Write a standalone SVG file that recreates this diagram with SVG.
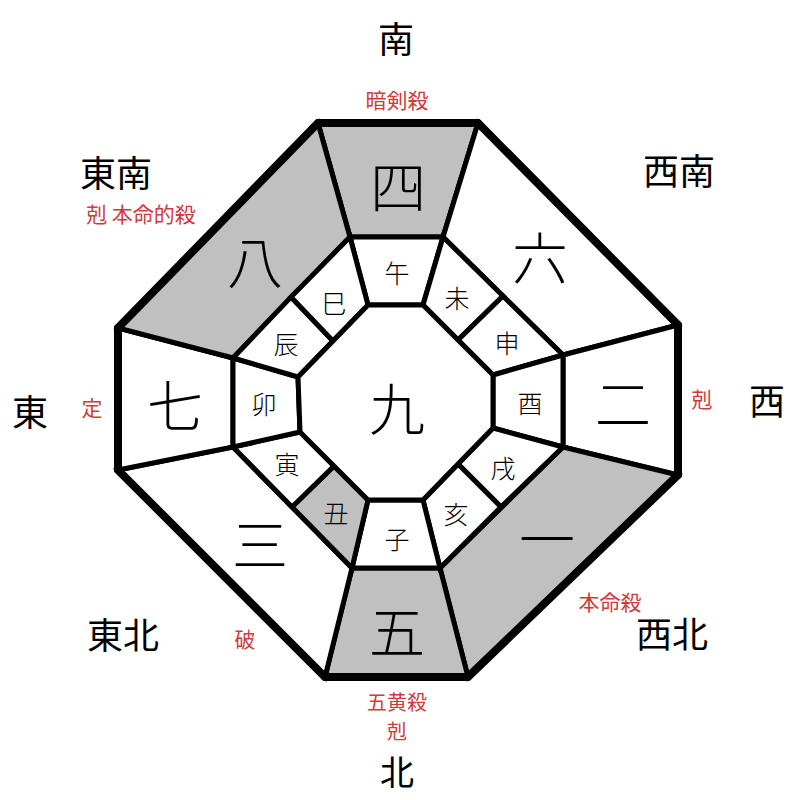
<svg xmlns="http://www.w3.org/2000/svg" width="800" height="800" viewBox="0 0 800 800">
<style>
.c{stroke:#000;stroke-width:5;stroke-linejoin:miter;fill:#fff}
.g{fill:#c0c0c0}
.big{font-family:"Noto Sans CJK JP","Noto Sans CJK SC",sans-serif;font-weight:300;font-size:56px;text-anchor:middle;dominant-baseline:central;fill:#000}
.zod{font-family:"Noto Sans CJK JP","Noto Sans CJK SC",sans-serif;font-weight:300;font-size:25px;text-anchor:middle;dominant-baseline:central;fill:#000}
.dir{font-family:"Noto Sans CJK JP","Noto Sans CJK SC",sans-serif;font-weight:400;font-size:36px;text-anchor:middle;dominant-baseline:central;fill:#000}
.red{font-family:"Noto Sans CJK JP","Noto Sans CJK SC",sans-serif;font-weight:400;font-size:21px;text-anchor:middle;dominant-baseline:central;fill:#d03a3a}
.sm{font-size:20px}
</style>
<rect width="800" height="800" fill="#fff"/>
<g id="outer-ring">
<g id="s-south"><polygon class="c g" points="318,123 478,123 443,237 350,237"/><text class="big" x="398" y="183">四</text></g>
<g id="s-southwest"><polygon class="c" points="478,123 678,325 563,355 443,237"/><text class="big" x="540" y="254">六</text></g>
<g id="s-west"><polygon class="c" points="678,325 678,475 563,447 563,355"/><text class="big" x="623" y="400">二</text></g>
<g id="s-northwest"><polygon class="c g" points="678,475 468,677 440,568 563,447"/><text class="big" x="547" y="535">一</text></g>
<g id="s-north"><polygon class="c g" points="468,677 325,677 352,568 440,568"/><text class="big" x="397" y="628">五</text></g>
<g id="s-northeast"><polygon class="c" points="325,677 118,470 233,447 352,568"/><text class="big" x="260" y="541">三</text></g>
<g id="s-east"><polygon class="c" points="118,470 118,328 233,358 233,447"/><text class="big" x="175" y="402">七</text></g>
<g id="s-southeast"><polygon class="c g" points="118,328 318,123 350,237 233,358"/><text class="big" x="255" y="258">八</text></g>
</g>
<g id="zodiac-ring">
<g id="z-uma"><polygon class="c" points="350,237 443,237 423,305 368,305"/><text class="zod" x="397" y="272">午</text></g>
<g id="z-hitsuji"><polygon class="c" points="443,237 503,296 458,340 423,305"/><text class="zod" x="457" y="297">未</text></g>
<g id="z-saru"><polygon class="c" points="503,296 563,355 493,375 458,340"/><text class="zod" x="507" y="342">申</text></g>
<g id="z-tori"><polygon class="c" points="563,355 563,447 493,428 493,375"/><text class="zod" x="530" y="402">酉</text></g>
<g id="z-inu"><polygon class="c" points="563,447 501,507 458,464 493,428"/><text class="zod" x="503" y="467">戌</text></g>
<g id="z-i"><polygon class="c" points="501,507 440,568 423,500 458,464"/><text class="zod" x="456" y="513">亥</text></g>
<g id="z-ne"><polygon class="c" points="440,568 352,568 368,500 423,500"/><text class="zod" x="397" y="538">子</text></g>
<g id="z-ushi"><polygon class="c g" points="352,568 292,507 334,466 368,500"/><text class="zod" x="336" y="512">丑</text></g>
<g id="z-tora"><polygon class="c" points="292,507 233,447 300,432 334,466"/><text class="zod" x="287" y="463">寅</text></g>
<g id="z-u"><polygon class="c" points="233,447 233,358 298,377 300,432"/><text class="zod" x="264" y="403">卯</text></g>
<g id="z-tatsu"><polygon class="c" points="233,358 291,297 333,341 298,377"/><text class="zod" x="286" y="343">辰</text></g>
<g id="z-mi"><polygon class="c" points="291,297 350,237 368,305 333,341"/><text class="zod" x="334" y="302">巳</text></g>
</g>
<g id="center"><polygon class="c" points="368,305 423,305 493,375 493,428 423,500 368,500 300,432 298,377"/><text class="big" x="397" y="405">九</text></g>
<g id="frame"><polygon points="318,123 478,123 678,325 678,475 468,677 325,677 118,470 118,328" fill="none" stroke="#000" stroke-width="8" stroke-linejoin="miter"/></g>
<g id="labels">
<text class="dir" x="396" y="37">南</text>
<text class="red" x="397" y="99">暗剣殺</text>
<text class="dir" x="116" y="171">東南</text>
<text class="red" x="141" y="213">剋 本命的殺</text>
<text class="dir" x="679" y="169">西南</text>
<text class="dir" x="30" y="410">東</text>
<text class="red" x="92" y="407">定</text>
<text class="red" x="702" y="398">剋</text>
<text class="dir" x="767" y="399">西</text>
<text class="dir" x="123" y="633">東北</text>
<text class="red" x="245" y="638">破</text>
<text class="red" x="610" y="601">本命殺</text>
<text class="dir" x="672" y="632">西北</text>
<text class="red sm" x="397" y="701">五黄殺</text>
<text class="red sm" x="397" y="730">剋</text>
<text class="dir" x="397" y="770" style="font-size:34px">北</text>
</g>
</svg>
